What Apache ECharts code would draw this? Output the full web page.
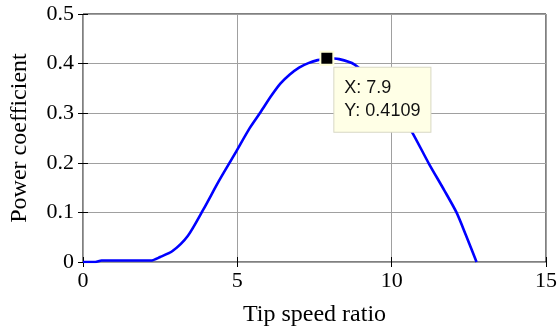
<!DOCTYPE html>
<html>
<head>
<meta charset="utf-8">
<script src="https://cdn.jsdelivr.net/npm/echarts@6/dist/echarts.min.js"></script>
<style>
  html, body { margin: 0; padding: 0; background: #fff; }
  #main { width: 560px; height: 332px; }
</style>
</head>
<body>
<div id="main"></div>
<script>
// tip speed ratio vs power coefficient
const tsr = [0, 0.4, 0.6, 1, 1.5, 2, 2.2, 2.5, 2.9, 3.4, 3.9, 4.4, 4.9, 5.4, 5.75, 6.1, 6.4, 6.7, 7.0, 7.3, 7.6, 7.9, 8.3, 8.8, 9.3, 9.8, 10.2, 10.65, 11.2, 11.7, 12.1, 12.4, 12.75];
const cp = [0, 0, 0.003, 0.003, 0.003, 0.003, 0.003, 0.01, 0.022, 0.053, 0.106, 0.163, 0.216, 0.27, 0.302, 0.335, 0.36, 0.378, 0.392, 0.401, 0.407, 0.4109, 0.409, 0.398, 0.37, 0.335, 0.305, 0.263, 0.199, 0.145, 0.1, 0.055, 0];
// data tip
const tipX = 7.9;
const tipY = 0.4109;

const serif = "'Liberation Serif', 'Times New Roman', serif";

let chart = echarts.init(document.getElementById('main'), null, { renderer: 'canvas' });

let axisCommon = {
    axisLine: { show: false },
    axisTick: { show: true, inside: true, length: 5, lineStyle: { color: '#000', width: 1 } },
    splitLine: { show: false }
};

chart.setOption({
    animation: false,
    backgroundColor: '#fff',
    grid: {
        left: 81, right: 11, top: 14, bottom: 67,
        show: true, borderColor: '#000', borderWidth: 1, backgroundColor: '#fff'
    },
    xAxis: [
        {
            type: 'value', min: 0, max: 15, interval: 5,
            name: 'Tip speed ratio', nameLocation: 'middle', nameGap: 41,
            nameTextStyle: { fontFamily: serif, fontSize: 24, color: '#000' },
            axisLine: { show: false },
            axisTick: { show: true, inside: true, length: 5, lineStyle: { color: '#000' } },
            axisLabel: { fontFamily: serif, fontSize: 22, color: '#000', margin: 8 },
            splitLine: { show: true, lineStyle: { color: '#a0a0a0', width: 1 } }
        },
        Object.assign({ type: 'value', min: 0, max: 15, interval: 5, position: 'top', axisLabel: { show: false } }, axisCommon)
    ],
    yAxis: [
        {
            type: 'value', min: 0, max: 0.5, interval: 0.1,
            name: 'Power coefficient', nameLocation: 'middle', nameGap: 51,
            nameTextStyle: { fontFamily: serif, fontSize: 24, color: '#000' },
            axisLine: { show: false },
            axisTick: { show: true, inside: true, length: 5, lineStyle: { color: '#000' } },
            axisLabel: { fontFamily: serif, fontSize: 22, color: '#000', margin: 9 },
            splitLine: { show: true, lineStyle: { color: '#a0a0a0', width: 1 } }
        },
        Object.assign({ type: 'value', min: 0, max: 0.5, interval: 0.1, position: 'right', axisLabel: { show: false } }, axisCommon)
    ],
    series: [
        {
            type: 'line',
            data: tsr.map((x, i) => [x, cp[i]]),
            showSymbol: false,
            smooth: 0.25,
            lineStyle: { color: '#0000ff', width: 2.6 },
            z: 3
        },
        {
            type: 'scatter',
            data: [[tipX, tipY]],
            symbol: 'rect',
            symbolSize: 13,
            itemStyle: { color: '#000', opacity: 1, borderColor: '#ffffd8', borderWidth: 2 },
            label: {
                show: true,
                position: [15, 17],
                formatter: 'X: ' + tipX + '\nY: ' + tipY,
                fontFamily: "'Liberation Sans', Arial, sans-serif",
                fontSize: 18,
                lineHeight: 23,
                color: '#111',
                backgroundColor: '#ffffe6',
                borderColor: '#d8d8c4',
                borderWidth: 1,
                padding: [9, 10, 9, 10]
            },
            z: 5
        }
    ]
});
</script>
</body>
</html>
